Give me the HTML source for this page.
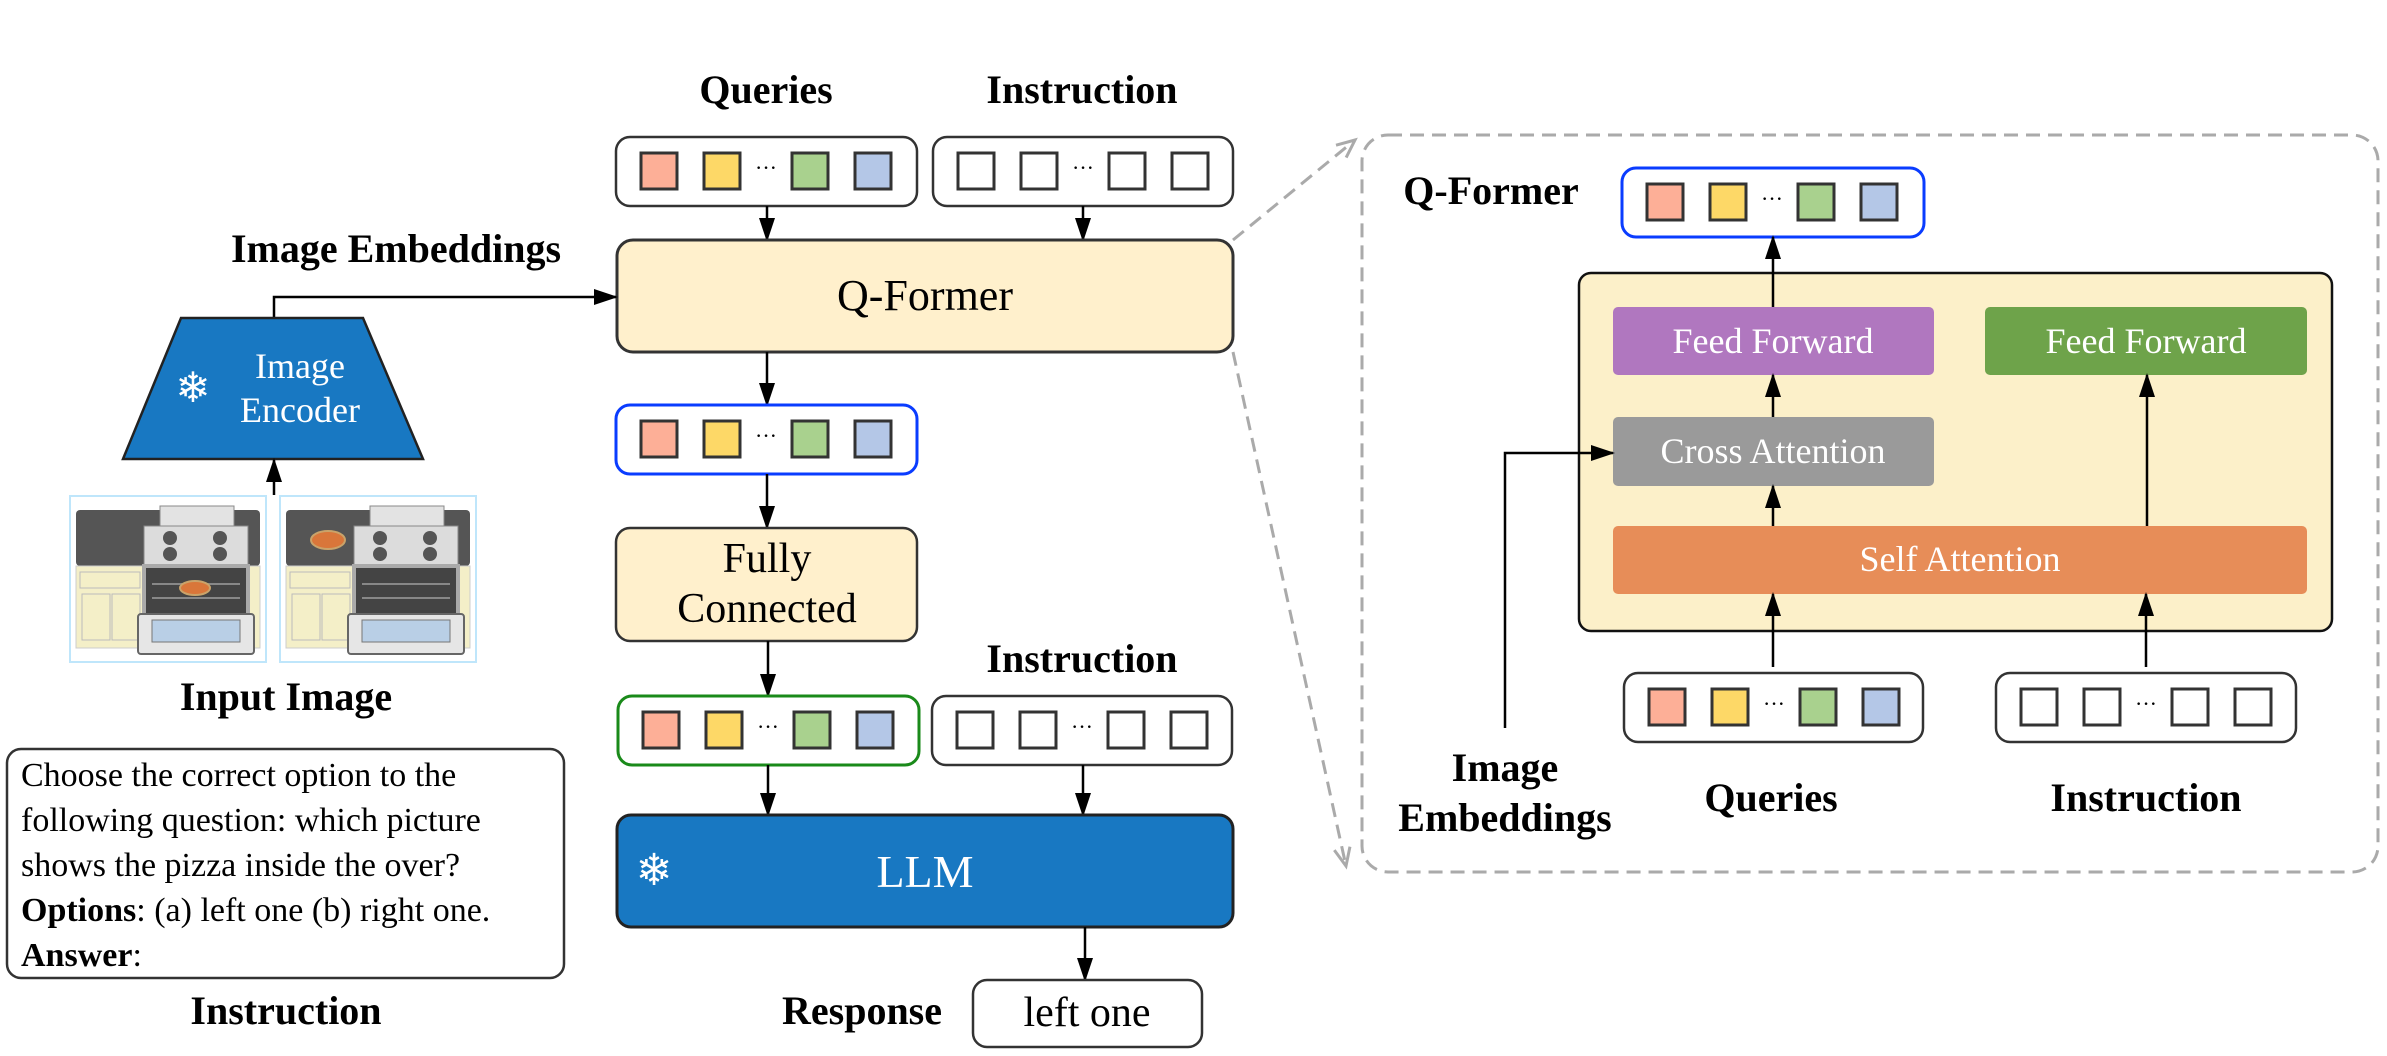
<!DOCTYPE html>
<html><head><meta charset="utf-8"><style>
html,body{margin:0;padding:0;background:#fff;}
svg, svg text{font-family:"Liberation Serif","DejaVu Serif","Times New Roman",serif !important;}
</style></head><body>
<svg width="2387" height="1051" viewBox="0 0 2387 1051" xmlns="http://www.w3.org/2000/svg" font-family="Liberation Serif, DejaVu Serif, serif">
<defs>
<marker id="ah" markerWidth="24" markerHeight="16" refX="22" refY="8" orient="auto" markerUnits="userSpaceOnUse" viewBox="0 0 24 16"><path d="M0,0 L24,8 L0,16 z" fill="#000"/></marker>
<marker id="ga" markerWidth="24" markerHeight="24" refX="20" refY="12" orient="auto" markerUnits="userSpaceOnUse"><path d="M2,4 L20,12 L2,20" fill="none" stroke="#aaa" stroke-width="3"/></marker>
<g id="tokc">
<rect x="25" y="16" width="36" height="36" fill="#fdaf97" stroke="#333" stroke-width="3"/>
<rect x="88" y="16" width="36" height="36" fill="#fdd867" stroke="#333" stroke-width="3"/>
<rect x="176" y="16" width="36" height="36" fill="#a9d18e" stroke="#333" stroke-width="3"/>
<rect x="239" y="16" width="36" height="36" fill="#b4c7e7" stroke="#333" stroke-width="3"/>
<text x="150" y="38" font-size="22" text-anchor="middle">···</text>
</g>
<g id="tokw">
<rect x="25" y="16" width="36" height="36" fill="#fff" stroke="#333" stroke-width="3"/>
<rect x="88" y="16" width="36" height="36" fill="#fff" stroke="#333" stroke-width="3"/>
<rect x="176" y="16" width="36" height="36" fill="#fff" stroke="#333" stroke-width="3"/>
<rect x="239" y="16" width="36" height="36" fill="#fff" stroke="#333" stroke-width="3"/>
<text x="150" y="38" font-size="22" text-anchor="middle">···</text>
</g>
<g id="oven">
<rect x="0" y="0" width="196" height="166" fill="#fff" stroke="#bfe6fb" stroke-width="2"/>
<rect x="6" y="14" width="184" height="56" rx="4" fill="#555"/>
<rect x="6" y="70" width="184" height="82" fill="#f4efc8" stroke="#ccc"/>
<rect x="10" y="76" width="60" height="16" fill="none" stroke="#bbb"/>
<rect x="12" y="98" width="28" height="46" fill="none" stroke="#bbb"/>
<rect x="42" y="98" width="28" height="46" fill="none" stroke="#bbb"/>
<rect x="90" y="10" width="74" height="20" fill="#e3e3e3" stroke="#888"/>
<rect x="74" y="30" width="104" height="40" fill="#dcdcdc" stroke="#888"/>
<circle cx="100" cy="42" r="7" fill="#555"/><circle cx="150" cy="42" r="7" fill="#555"/>
<circle cx="100" cy="58" r="7" fill="#555"/><circle cx="150" cy="58" r="7" fill="#555"/>
<rect x="74" y="70" width="104" height="50" fill="#444" stroke="#aaa" stroke-width="4"/>
<line x1="82" y1="88" x2="170" y2="88" stroke="#888" stroke-width="2"/>
<line x1="82" y1="102" x2="170" y2="102" stroke="#888" stroke-width="2"/>
<rect x="68" y="118" width="116" height="40" rx="3" fill="#e6e6e6" stroke="#666" stroke-width="2"/>
<rect x="82" y="124" width="88" height="22" fill="#b9cfe6" stroke="#777"/>
</g>
</defs>

<text x="766" y="103" font-size="40" font-weight="bold" text-anchor="middle">Queries</text>
<text x="1082" y="103" font-size="40" font-weight="bold" text-anchor="middle">Instruction</text>

<rect x="616" y="137" width="301" height="69" rx="14" fill="#fff" stroke="#333" stroke-width="2.5"/>
<use href="#tokc" x="616" y="137"/>
<rect x="933" y="137" width="300" height="69" rx="14" fill="#fff" stroke="#333" stroke-width="2.5"/>
<use href="#tokw" x="933" y="137"/>
<line x1="767" y1="206" x2="767" y2="240" stroke="#000" stroke-width="2.5" marker-end="url(#ah)"/>
<line x1="1083" y1="206" x2="1083" y2="240" stroke="#000" stroke-width="2.5" marker-end="url(#ah)"/>

<rect x="617" y="240" width="616" height="112" rx="16" fill="#fff0cc" stroke="#333" stroke-width="3"/>
<text x="925" y="310" font-size="44" text-anchor="middle">Q-Former</text>

<text x="396" y="262" font-size="40" font-weight="bold" text-anchor="middle">Image Embeddings</text>
<polyline points="274,318 274,297 616,297" fill="none" stroke="#000" stroke-width="2.5" marker-end="url(#ah)"/>
<polygon points="181,318 363,318 423,459 123,459" fill="#1878c2" stroke="#222" stroke-width="2.5"/>
<text x="300" y="378" font-size="36" fill="#fff" text-anchor="middle">Image</text>
<text x="300" y="422" font-size="36" fill="#fff" text-anchor="middle">Encoder</text>
<text x="193" y="402" font-size="42" fill="#fff" text-anchor="middle">❄</text>
<line x1="274" y1="495" x2="274" y2="460" stroke="#000" stroke-width="2.5" marker-end="url(#ah)"/>
<use href="#oven" x="70" y="496"/>
<use href="#oven" x="280" y="496"/>
<ellipse cx="195" cy="588" rx="15" ry="7" fill="#d9763a" stroke="#c9a36a" stroke-width="2"/>
<ellipse cx="328" cy="540" rx="17" ry="9" fill="#d9763a" stroke="#c9a36a" stroke-width="2"/>
<text x="286" y="710" font-size="40" font-weight="bold" text-anchor="middle">Input Image</text>

<rect x="7" y="749" width="557" height="229" rx="14" fill="#fff" stroke="#333" stroke-width="2.5"/>
<g font-size="34">
<text x="21" y="786">Choose the correct option to the</text>
<text x="21" y="831">following question: which picture</text>
<text x="21" y="876">shows the pizza inside the over?</text>
<text x="21" y="921"><tspan font-weight="bold">Options</tspan>: (a) left one (b) right one.</text>
<text x="21" y="966"><tspan font-weight="bold">Answer</tspan>:</text>
</g>
<text x="286" y="1024" font-size="40" font-weight="bold" text-anchor="middle">Instruction</text>

<line x1="767" y1="352" x2="767" y2="405" stroke="#000" stroke-width="2.5" marker-end="url(#ah)"/>
<rect x="616" y="405" width="301" height="69" rx="14" fill="#fff" stroke="#0a3cff" stroke-width="3"/>
<use href="#tokc" x="616" y="405"/>
<line x1="767" y1="474" x2="767" y2="528" stroke="#000" stroke-width="2.5" marker-end="url(#ah)"/>
<rect x="616" y="528" width="301" height="113" rx="14" fill="#fff0cc" stroke="#333" stroke-width="2.5"/>
<text x="767" y="572" font-size="42" text-anchor="middle">Fully</text>
<text x="767" y="622" font-size="42" text-anchor="middle">Connected</text>
<line x1="768" y1="641" x2="768" y2="696" stroke="#000" stroke-width="2.5" marker-end="url(#ah)"/>
<text x="1082" y="672" font-size="40" font-weight="bold" text-anchor="middle">Instruction</text>
<rect x="618" y="696" width="301" height="69" rx="14" fill="#fff" stroke="#1a8a1a" stroke-width="3"/>
<use href="#tokc" x="618" y="696"/>
<rect x="932" y="696" width="300" height="69" rx="14" fill="#fff" stroke="#333" stroke-width="2.5"/>
<use href="#tokw" x="932" y="696"/>
<line x1="768" y1="765" x2="768" y2="815" stroke="#000" stroke-width="2.5" marker-end="url(#ah)"/>
<line x1="1083" y1="765" x2="1083" y2="815" stroke="#000" stroke-width="2.5" marker-end="url(#ah)"/>
<rect x="617" y="815" width="616" height="112" rx="14" fill="#1878c2" stroke="#222" stroke-width="3"/>
<text x="654" y="885" font-size="44" fill="#fff" text-anchor="middle">❄</text>
<text x="925" y="887" font-size="46" fill="#fff" text-anchor="middle">LLM</text>
<line x1="1085" y1="927" x2="1085" y2="980" stroke="#000" stroke-width="2.5" marker-end="url(#ah)"/>
<text x="862" y="1024" font-size="40" font-weight="bold" text-anchor="middle">Response</text>
<rect x="973" y="980" width="229" height="67" rx="14" fill="#fff" stroke="#333" stroke-width="2.5"/>
<text x="1087" y="1026" font-size="42" text-anchor="middle">left one</text>

<line x1="1233" y1="240" x2="1355" y2="140" stroke="#aaa" stroke-width="3" stroke-dasharray="14,8" marker-end="url(#ga)"/>
<line x1="1233" y1="352" x2="1346" y2="866" stroke="#aaa" stroke-width="3" stroke-dasharray="14,8" marker-end="url(#ga)"/>

<rect x="1362" y="135" width="1016" height="737" rx="26" fill="none" stroke="#aaa" stroke-width="3" stroke-dasharray="14,8"/>
<text x="1491" y="204" font-size="40" font-weight="bold" text-anchor="middle">Q-Former</text>
<rect x="1622" y="168" width="302" height="69" rx="14" fill="#fff" stroke="#0a3cff" stroke-width="3"/>
<use href="#tokc" x="1622" y="168"/>
<rect x="1579" y="273" width="753" height="358" rx="12" fill="#fcf0c9" stroke="#111" stroke-width="2.5"/>
<line x1="1773" y1="307" x2="1773" y2="237" stroke="#000" stroke-width="2.5" marker-end="url(#ah)"/>
<rect x="1613" y="307" width="321" height="68" rx="5" fill="#b077bf"/>
<text x="1773" y="353" font-size="36" fill="#fff" text-anchor="middle">Feed Forward</text>
<rect x="1985" y="307" width="322" height="68" rx="5" fill="#6ea34a"/>
<text x="2146" y="353" font-size="36" fill="#fff" text-anchor="middle">Feed Forward</text>
<rect x="1613" y="417" width="321" height="69" rx="5" fill="#9a9a9a"/>
<text x="1773" y="463" font-size="36" fill="#fff" text-anchor="middle">Cross Attention</text>
<rect x="1613" y="526" width="694" height="68" rx="5" fill="#e78d58"/>
<text x="1960" y="571" font-size="36" fill="#fff" text-anchor="middle">Self Attention</text>
<line x1="1773" y1="417" x2="1773" y2="375" stroke="#000" stroke-width="2.5" marker-end="url(#ah)"/>
<line x1="1773" y1="526" x2="1773" y2="486" stroke="#000" stroke-width="2.5" marker-end="url(#ah)"/>
<line x1="2147" y1="526" x2="2147" y2="375" stroke="#000" stroke-width="2.5" marker-end="url(#ah)"/>
<line x1="1773" y1="667" x2="1773" y2="594" stroke="#000" stroke-width="2.5" marker-end="url(#ah)"/>
<line x1="2146" y1="667" x2="2146" y2="594" stroke="#000" stroke-width="2.5" marker-end="url(#ah)"/>
<polyline points="1505,728 1505,453 1613,453" fill="none" stroke="#000" stroke-width="2.5" marker-end="url(#ah)"/>
<rect x="1624" y="673" width="299" height="69" rx="14" fill="#fff" stroke="#333" stroke-width="2.5"/>
<use href="#tokc" x="1624" y="673"/>
<rect x="1996" y="673" width="300" height="69" rx="14" fill="#fff" stroke="#333" stroke-width="2.5"/>
<use href="#tokw" x="1996" y="673"/>
<text x="1505" y="781" font-size="40" font-weight="bold" text-anchor="middle">Image</text>
<text x="1505" y="831" font-size="40" font-weight="bold" text-anchor="middle">Embeddings</text>
<text x="1771" y="811" font-size="40" font-weight="bold" text-anchor="middle">Queries</text>
<text x="2146" y="811" font-size="40" font-weight="bold" text-anchor="middle">Instruction</text>
</svg>
</body></html>
